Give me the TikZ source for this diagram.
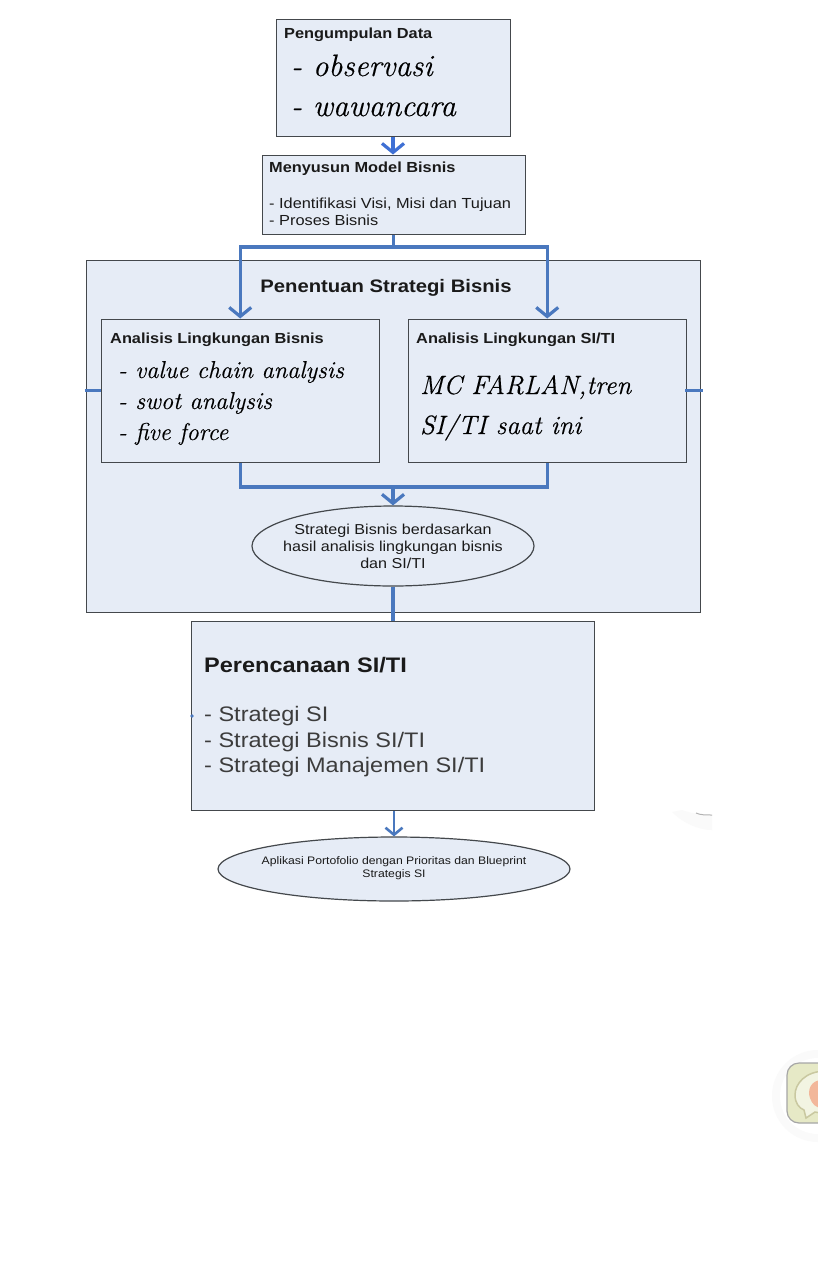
\documentclass[tikz,border=0pt]{standalone}
\usepackage{fontspec}
\setmainfont{Liberation Sans}[FakeStretch=1.12]
\newfontfamily\handfont{Latin Modern Roman}[FakeBold=0.35]
\usetikzlibrary{arrows.meta,shapes.geometric,calc}
\definecolor{boxfill}{HTML}{E6ECF6}
\definecolor{linkblue}{HTML}{4A78BE}
\definecolor{brightblue}{HTML}{3F70D4}
\definecolor{edge}{HTML}{44484C}
\definecolor{txt}{HTML}{1A1A1A}
\definecolor{iconfill}{HTML}{E6E9C6}
\definecolor{iconring}{HTML}{C9C8A0}
\definecolor{iconcore}{HTML}{F2B79A}
\tikzset{
  x=1pt,y=-1pt,
  boxnode/.style={draw=edge,fill=boxfill,line width=1.4pt,rectangle,inner sep=0pt,anchor=north west},
  ovalnode/.style={draw=edge,fill=boxfill,line width=1.2pt,ellipse,inner sep=0pt},
  link/.style={draw=linkblue,line width=3.2pt},
  linkarrow/.style={link,-{Straight Barb[length=9pt,width=22pt,line width=3.2pt]}},
  smallarrow/.style={draw=linkblue,line width=2.6pt,-{Straight Barb[length=7pt,width=17pt,line width=2.6pt]}},
  stub/.style={draw=linkblue,line width=3pt},
  head/.style={anchor=base west,inner sep=0pt,font=\bfseries\fontsize{14.6}{17}\selectfont,text=txt},
  plain/.style={anchor=base west,inner sep=0pt,font=\fontsize{14.6}{17}\selectfont,text=txt},
  hand/.style={anchor=base west,inner sep=0pt,font=\handfont\itshape\fontsize{31}{34}\selectfont,text=black},
  handm/.style={anchor=base west,inner sep=0pt,font=\handfont\itshape\fontsize{24.4}{28}\selectfont,text=black},
  handl/.style={anchor=base west,inner sep=0pt,font=\handfont\itshape\fontsize{26.5}{34}\selectfont,text=black},
  biglabel/.style={anchor=base west,inner sep=0pt,font=\fontsize{21}{25}\selectfont,text=txt!85},
}
\begin{document}
\begin{tikzpicture}
\useasboundingbox (0,0) rectangle (818,1280);
\fill[white] (0,0) rectangle (818,1280);

% boxes
\node[boxnode,minimum width=234pt,minimum height=117pt] (a) at (275.5,18.5) {};
\node[boxnode,minimum width=263pt,minimum height=79pt] (b) at (261.5,154.5) {};
\node[boxnode,minimum width=614pt,minimum height=352pt] (c) at (85.5,259.5) {};
\node[boxnode,minimum width=278pt,minimum height=143pt] (d) at (100.5,318.5) {};
\node[boxnode,minimum width=278pt,minimum height=143pt] (e) at (407.5,318.5) {};
\node[ovalnode,minimum width=282pt,minimum height=80pt] (f) at (393,546) {};
\node[boxnode,minimum width=403pt,minimum height=189pt] (g) at (190.5,620.5) {};
\node[ovalnode,minimum width=352pt,minimum height=64pt] (h) at (394,869) {};

% connector coordinates
\coordinate (split) at (b.south |- 0,247);
\coordinate (dtop) at (d.north |- split);
\coordinate (etop) at (e.north |- split);
\coordinate (merge) at (f.north |- 0,487);
\coordinate (dlow) at (d.south |- merge);
\coordinate (elow) at (e.south |- merge);
\coordinate (stubl) at ($(c.west |- 0,390)+(-1,0)$);
\coordinate (stubla) at (d.west |- 0,390);
\coordinate (stubr) at ($(c.east |- 0,390)+(2,0)$);
\coordinate (stubra) at ($(e.east |- 0,390)+(-2,0)$);

% connectors
\draw[linkarrow,draw=brightblue] (a.south -| 393,0) -- (b.north -| 393,0);
\draw[link] (b.south) -- (split);
\draw[linkarrow] (split) -- (dtop) -- (d.north);
\draw[linkarrow] (split) -- (etop) -- (e.north);
\draw[link] (d.south) -- (dlow) -- (merge);
\draw[link] (e.south) -- (elow) -- (merge);
\draw[linkarrow] (merge) -- (f.north);
\draw[link] (f.south) -- (g.north -| f.south);
\draw[smallarrow] (g.south -| h.north) -- (h.north);
\draw[stub] (stubl) -- (stubla);
\draw[stub] (stubr) -- (stubra);
\fill[linkblue] (192,716) circle (1.8pt);

% box texts
\node[head] (at) at (284,38) {Pengumpulan Data};
\node[hand] (a1) at (291,76) {- observasi};
\node[hand] (a2) at (291,116) {- wawancara};

\node[head] (bt) at (269,172) {Menyusun Model Bisnis};
\node[plain] (b1) at (269,208) {- Identifikasi Visi, Misi dan Tujuan};
\node[plain] (b2) at (269,225) {- Proses Bisnis};

\node[anchor=base,inner sep=0pt,font=\bfseries\fontsize{18.1}{21}\selectfont,text=txt] (ct) at (386,292) {Penentuan Strategi Bisnis};

\node[head] (dt) at (110,343) {Analisis Lingkungan Bisnis};
\node[handm] (d1) at (118,378) {- value chain analysis};
\node[handm] (d2) at (118,409) {- swot analysis};
\node[handm] (d3) at (118,440) {- five force};

\node[head] (et) at (416,343) {Analisis Lingkungan SI/TI};
\node[handl] (e1) at (420,394) {MC FARLAN,tren};
\node[handl] (e2) at (420,434) {SI/TI saat ini};

\node[align=center,inner sep=0pt,font=\fontsize{14.4}{17}\selectfont,text=txt] (ft) at (393,546) {Strategi Bisnis berdasarkan\\hasil analisis lingkungan bisnis\\dan SI/TI};

\node[biglabel,font=\bfseries\fontsize{21}{25}\selectfont,text=txt] (gt) at (204,672) {Perencanaan SI/TI};
\node[biglabel] (g1) at (204,721) {- Strategi SI};
\node[biglabel] (g2) at (204,747) {- Strategi Bisnis SI/TI};
\node[biglabel] (g3) at (204,772) {- Strategi Manajemen SI/TI};

\node[align=center,inner sep=0pt,font=\fontsize{10.9}{13.5}\selectfont,text=txt] (ht) at (394,868) {Aplikasi Portofolio dengan Prioritas dan Blueprint\\Strategis SI};

% faint smudge
\fill[black!2] (672,812) .. controls (684,824) and (700,830) .. (712,830) -- (712,815) .. controls (700,815) and (690,813) .. (682,810) -- cycle;
\draw[black!30,line width=1pt] (696,813) .. controls (700,815) and (706,815) .. (712,815);

% corner icon
\fill[black!2] (818,1050) arc (270:90:46) -- cycle;
\fill[white] (818,1058) arc (270:90:38) -- cycle;
\begin{scope}
\clip (770,1040) rectangle (818,1140);
\draw[black!35,fill=iconfill,line width=1.2pt,rounded corners=12pt] (787,1063) rectangle (840,1123);
\draw[iconring,line width=1.5pt,fill=iconfill!50!white] (826,1071) .. controls (805,1071) and (795,1084) .. (795,1095) .. controls (795,1103) and (799,1108) .. (804,1110) -- (806,1118) -- (815,1112) -- (826,1114) -- cycle;
\fill[iconcore] (822,1080) .. controls (811,1080) and (807,1090) .. (810,1098) .. controls (812,1104) and (816,1108) .. (822,1108) -- cycle;
\end{scope}
\end{tikzpicture}
\end{document}
